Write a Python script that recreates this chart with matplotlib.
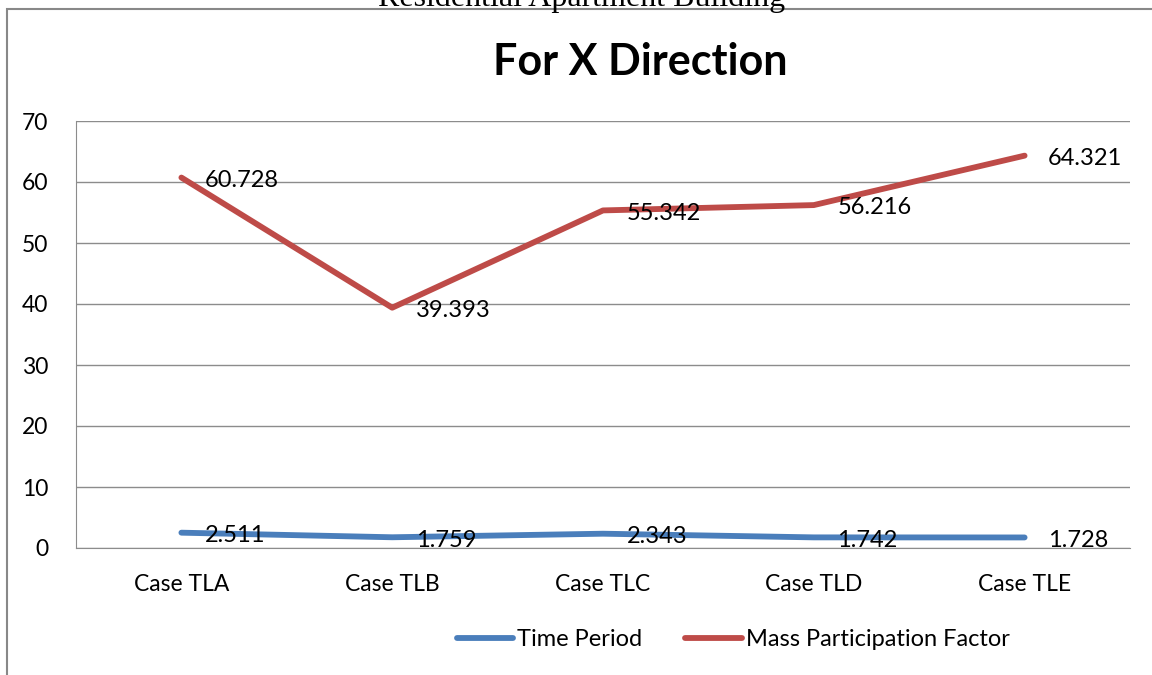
import matplotlib.pyplot as plt
from matplotlib.patches import Rectangle

# data
cases = ["Case TLA", "Case TLB", "Case TLC", "Case TLD", "Case TLE"]
time_period = [2.511, 1.759, 2.343, 1.742, 1.728]
mass_factor = [60.728, 39.393, 55.342, 56.216, 64.321]

plt.rcParams['font.family'] = ['Lato', 'DejaVu Sans']

W, H = 1152, 675
fig = plt.figure(figsize=(W / 100, H / 100), dpi=100)
ax = fig.add_axes([76 / W, 1 - 548 / H, (1130 - 76) / W, (548 - 121) / H])

x = list(range(len(cases)))
blue = '#4A7EBB'
red = '#BE4B48'
ax.plot(x, time_period, color=blue, lw=4.2, solid_capstyle='round', label='Time Period')
ax.plot(x, mass_factor, color=red, lw=4.2, solid_capstyle='round', label='Mass Participation Factor')

# data labels to the right of each point
for i in x:
    ax.annotate(f"{time_period[i]:.3f}", (i, time_period[i]), xytext=(17, -2),
                textcoords='offset points', va='center', ha='left', fontsize=17)
    ax.annotate(f"{mass_factor[i]:.3f}", (i, mass_factor[i]), xytext=(17, -2),
                textcoords='offset points', va='center', ha='left', fontsize=17)

ax.set_xlim(-0.5, 4.5)
ax.set_ylim(0, 70)
ax.set_yticks(range(0, 71, 10))
ax.set_xticks(x)
ax.set_xticklabels(cases)
ax.tick_params(axis='both', length=0, labelsize=16.5)
ax.tick_params(axis='x', pad=19)
ax.tick_params(axis='y', pad=20)
ax.grid(axis='y', color='#8c8c8c', lw=1)
ax.set_axisbelow(True)
for s in ['top', 'right']:
    ax.spines[s].set_visible(False)
ax.spines['left'].set_color('#8c8c8c')
ax.spines['bottom'].set_color('#8c8c8c')

fig.text(640 / W, 1 - 62 / H, "For X Direction", ha='center', va='center',
         fontsize=31, fontweight='bold')

# cut-off caption above the chart
fig.text(582 / W, 1 - 6 / H, "Residential Apartment Building", ha='center',
         va='baseline', fontsize=23, family='Liberation Serif')

# chart border
fig.patches.append(Rectangle((7 / W, -0.1), 1.2, 1 - 9 / H + 0.1,
                             transform=fig.transFigure, fill=False,
                             edgecolor='#888888', lw=1.5))

fig.legend(loc='center', bbox_to_anchor=(733 / W, 1 - 640 / H), ncol=2,
           frameon=False, fontsize=17, handlelength=2.4, handletextpad=0.17,
           columnspacing=1.8)

fig.savefig('out.png', dpi=100)
